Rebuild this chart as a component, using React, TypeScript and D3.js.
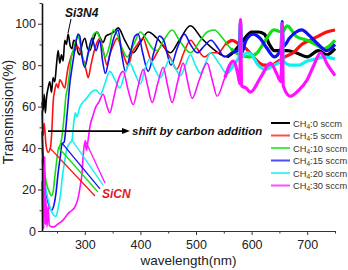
import React, { useEffect, useRef } from "react";
import * as d3 from "d3";

const W = 348;
const H = 270;

// transmission spectra, [wavelength (nm), transmission (%)]
const ch4_0: [number, number][] = [
  [223, 62], [225, 58], [227, 66], [229, 57], [231, 64], [234, 69], [237, 72], [240, 67], [243, 74],
  [246, 72], [249, 80], [252, 87], [255, 81], [258, 85], [261, 82], [264, 92], [267, 90], [270, 95],
  [274, 89], [277, 88], [280, 92], [284, 91], [288, 86], [291, 85], [295, 90], [300, 93], [305, 88],
  [309, 87], [315, 92], [322, 96], [328, 93], [333, 91], [338, 94], [345, 95], [352, 96], [360, 98],
  [372, 92], [387, 86], [400, 91], [414, 96], [430, 93], [454, 86], [470, 92], [490, 99], [510, 93],
  [530, 88], [545, 85], [556, 84], [570, 87], [585, 92], [600, 96], [612, 96], [623, 95], [632, 90],
  [641, 87], [655, 87], [664, 87], [680, 86], [700, 84], [720, 87], [735, 85], [750, 88],
];

const ch4_5: [number, number][] = [
  [223, 58], [225, 46], [227, 52], [230, 42], [234, 38], [238, 40], [241, 50], [243, 62], [246, 68],
  [249, 71], [252, 69], [255, 73], [258, 72], [261, 70], [264, 69], [267, 74], [270, 79], [274, 83],
  [278, 86], [282, 87], [286, 89], [290, 88], [294, 85], [297, 83], [302, 78], [306, 74], [311, 80],
  [316, 86], [322, 91], [327, 93], [334, 86], [340, 80], [346, 86], [352, 90], [358, 93], [366, 88],
  [372, 83], [378, 80], [385, 86], [392, 89], [400, 92], [405, 93], [412, 88], [420, 82], [430, 86],
  [440, 90], [448, 86], [455, 83], [465, 78], [478, 86], [490, 92], [502, 88], [515, 84], [528, 86],
  [540, 86], [553, 90], [565, 92], [578, 90], [590, 88], [600, 85], [610, 82], [622, 80], [635, 80],
  [648, 82], [660, 84], [675, 86], [690, 90], [705, 92], [720, 94], [735, 96], [750, 97],
];

const ch4_10: [number, number][] = [
  [223, 40], [226, 32], [229, 26], [232, 22], [236, 19], [240, 17], [243, 19], [246, 26], [249, 33],
  [252, 39], [255, 41], [258, 44], [260, 48], [263, 56], [266, 65], [269, 69], [272, 75], [276, 84],
  [280, 88], [284, 92], [288, 94], [292, 90], [296, 84], [300, 80], [305, 84], [311, 91], [316, 95],
  [322, 96], [330, 90], [337, 84], [345, 90], [351, 97], [358, 95], [366, 89], [376, 84], [388, 90],
  [400, 96], [412, 92], [422, 88], [430, 87], [442, 92], [457, 97], [470, 92], [490, 86], [508, 92],
  [520, 96], [533, 97], [548, 93], [563, 88], [578, 85], [595, 84], [610, 86], [625, 92], [640, 97],
  [655, 96], [664, 99], [680, 94], [700, 92], [715, 90], [730, 88], [750, 92],
];

const ch4_15: [number, number][] = [
  [223, 48], [225, 36], [228, 24], [232, 16], [236, 12], [240, 10], [244, 12], [248, 18], [252, 28],
  [256, 36], [259, 42], [263, 43], [266, 50], [268, 56], [270, 62], [273, 71], [276, 77], [280, 84],
  [284, 91], [288, 95], [291, 94], [295, 84], [300, 79], [306, 86], [313, 93], [320, 87], [327, 92],
  [332, 82], [337, 76], [344, 84], [352, 93], [360, 97], [366, 86], [373, 77], [382, 86], [390, 94],
  [396, 95], [404, 86], [414, 77], [424, 86], [434, 94], [442, 92], [455, 80], [466, 88], [479, 95],
  [490, 90], [502, 86], [514, 89], [527, 92], [540, 88], [551, 84], [565, 86], [578, 88], [580, 101],
  [582, 86], [590, 92], [603, 95], [615, 93], [628, 88], [641, 84], [653, 88], [655, 101], [657, 89],
  [668, 93], [680, 96], [690, 97], [705, 94], [720, 90], [735, 87], [750, 90],
];

const ch4_20: [number, number][] = [
  [223, 35], [226, 26], [230, 20], [234, 15], [238, 11], [243, 8], [248, 7], [252, 11], [256, 17],
  [260, 27], [264, 34], [268, 40], [272, 42], [277, 44], [280, 52], [283, 57], [286, 55], [290, 59],
  [296, 62], [300, 63], [306, 65], [312, 67], [320, 68], [328, 66], [336, 71], [345, 77], [354, 73],
  [363, 69], [372, 76], [381, 81], [390, 76], [400, 71], [408, 78], [417, 83], [426, 78], [436, 74],
  [445, 79], [453, 83], [462, 79], [472, 75], [481, 80], [490, 85], [499, 80], [508, 76], [517, 81],
  [526, 86], [541, 81], [556, 76], [570, 81], [579, 85], [580, 100], [582, 84], [592, 86], [600, 85],
  [612, 80], [625, 78], [640, 80], [653, 82], [655, 100], [657, 82], [670, 80], [685, 80], [700, 82],
  [715, 83], [730, 84], [750, 83],
];

const ch4_30: [number, number][] = [
  [223, 24], [224, 4], [225, 30], [226, 1], [227, 20], [228, 36], [229, 3], [230, 15], [232, 2],
  [234, 12], [236, 3], [240, 2], [245, 2], [250, 3], [255, 4], [260, 5], [266, 7], [272, 9],
  [277, 10], [283, 12], [288, 16], [292, 22], [295, 28], [297, 36], [300, 43], [303, 39], [306, 44],
  [309, 50], [315, 56], [320, 60], [325, 62], [333, 66], [339, 61], [345, 57], [351, 63], [357, 70],
  [363, 75], [369, 77], [378, 68], [387, 61], [396, 70], [405, 78], [413, 70], [421, 62], [431, 71],
  [441, 79], [449, 70], [457, 62], [467, 72], [477, 81], [485, 72], [493, 64], [506, 73], [520, 81],
  [529, 73], [538, 65], [552, 74], [567, 82], [575, 76], [579, 71], [580, 102], [582, 70], [590, 69],
  [598, 67], [616, 74], [634, 81], [645, 76], [653, 72], [655, 100], [657, 70], [670, 65], [685, 68],
  [700, 73], [712, 80], [724, 86], [737, 80], [750, 75],
];

const seriesData = [ch4_0, ch4_5, ch4_10, ch4_15, ch4_20, ch4_30];
const seriesRates = ["0", "5", "10", "15", "20", "30"];
const seriesColors = ["#000000", "#ff1010", "#10e010", "#1010f0", "#10f0f0", "#ff10ff"];

const xTicks = [300, 400, 500, 600, 700];
const xMinorTicks = [250, 350, 450, 550, 650, 750];
const yTicks = [0, 20, 40, 60, 80, 100];
const yMinorTicks = [10, 30, 50, 70, 90, 110];

// SiCN pointers: one per film, from the absorption edge to the label
const sicnPointers: [number, number, number, number][] = [
  [237.4, 40.0, 318.3, 16.9],
  [251.8, 40.5, 323.7, 18.8],
  [259.0, 42.4, 327.3, 20.3],
  [277.0, 43.9, 332.7, 22.2],
  [300.3, 43.9, 336.3, 23.2],
];

const FONT = "'Liberation Sans', Arial, sans-serif";

export default function App() {
  const ref = useRef<SVGSVGElement>(null);

  useEffect(() => {
    const margin = { top: 3, right: 13, bottom: 39, left: 42 };
    const svg = d3.select(ref.current);
    svg.selectAll("*").remove();

    const x = d3.scaleLinear().domain([223, 750]).range([margin.left, W - margin.right]);
    const y = d3.scaleLinear().domain([0, 110]).range([H - margin.bottom, margin.top]);

    const line = d3.line<[number, number]>()
      .x(d => x(d[0]))
      .y(d => y(d[1]))
      .curve(d3.curveMonotoneX);

    // spectra
    const plot = svg.append("g").attr("fill", "none").attr("stroke-linejoin", "round");
    seriesData.forEach((data, i) => {
      plot.append("path")
        .attr("d", line(data))
        .attr("stroke", seriesColors[i])
        .attr("stroke-width", 1.6);
      // detector region past ~560 nm is noisy, drawn as a wider band
      plot.append("path")
        .attr("d", line(data.filter(d => d[0] >= 552)))
        .attr("stroke", seriesColors[i])
        .attr("stroke-width", 3.2);
    });

    // axes
    const xAxis = svg.append("g")
      .attr("transform", `translate(0,${H - margin.bottom})`)
      .call(d3.axisBottom(x).tickValues(xTicks).tickSizeInner(4).tickSizeOuter(0).tickPadding(5));
    svg.append("g")
      .attr("transform", `translate(0,${H - margin.bottom})`)
      .call(d3.axisBottom(x).tickValues(xMinorTicks).tickSize(2.5).tickFormat(() => ""))
      .call(g => g.select(".domain").remove());

    const yAxis = svg.append("g")
      .attr("transform", `translate(${margin.left},0)`)
      .call(d3.axisLeft(y).tickValues(yTicks).tickSizeInner(4).tickSizeOuter(0).tickPadding(2));
    svg.append("g")
      .attr("transform", `translate(${margin.left},0)`)
      .call(d3.axisLeft(y).tickValues(yMinorTicks).tickSize(2.5).tickFormat(() => ""))
      .call(g => g.select(".domain").remove());

    [xAxis, yAxis].forEach(g => {
      g.selectAll("text").attr("font-family", FONT).attr("font-size", 12.5).attr("fill", "#222");
      g.select(".domain").attr("stroke", "#333");
    });
    yAxis.select(".domain").attr("stroke", "#111").attr("stroke-width", 1.6);
    svg.selectAll(".tick line").attr("stroke", "#333");

    svg.append("text")
      .attr("x", (margin.left + W - margin.right) / 2)
      .attr("y", 265)
      .attr("text-anchor", "middle")
      .attr("font-family", FONT)
      .attr("font-size", 13.5)
      .attr("fill", "#222")
      .text("wavelength(nm)");

    svg.append("text")
      .attr("transform", `translate(13,112) rotate(-90)`)
      .attr("text-anchor", "middle")
      .attr("font-family", FONT)
      .attr("font-size", 14)
      .attr("fill", "#222")
      .text("Transmission(%)");

    // annotations
    const ann = svg.append("g");
    sicnPointers.forEach((p, i) => {
      ann.append("line")
        .attr("x1", x(p[0])).attr("y1", y(p[1]))
        .attr("x2", x(p[2])).attr("y2", y(p[3]))
        .attr("stroke", seriesColors[i + 1])
        .attr("stroke-width", 1.3);
    });
    ann.append("text")
      .attr("x", x(331)).attr("y", y(16))
      .attr("font-family", FONT).attr("font-size", 12)
      .attr("font-weight", "bold").attr("font-style", "italic")
      .attr("fill", "#e8141e")
      .text("SiCN");

    // Si3N4 label and pointer
    ann.append("line")
      .attr("x1", x(275.2)).attr("y1", y(102.3))
      .attr("x2", x(269.8)).attr("y2", y(95.5))
      .attr("stroke", "#000").attr("stroke-width", 1);
    ann.append("text")
      .attr("x", x(264.4)).attr("y", y(103.2))
      .attr("font-family", FONT).attr("font-size", 12)
      .attr("font-weight", "bold").attr("font-style", "italic")
      .attr("fill", "#111")
      .text("Si3N4");

    // shift arrow
    const ay = y(48.2);
    const ax0 = x(233.8);
    const ax1 = x(381.3);
    ann.append("line")
      .attr("x1", ax0).attr("y1", ay).attr("x2", ax1 - 6).attr("y2", ay)
      .attr("stroke", "#000").attr("stroke-width", 1.6);
    ann.append("path")
      .attr("d", `M${ax1},${ay} L${ax1 - 8},${ay - 3} L${ax1 - 8},${ay + 3} Z`)
      .attr("fill", "#000");
    ann.append("text")
      .attr("x", x(384.9)).attr("y", y(46.3))
      .attr("font-family", FONT).attr("font-size", 11.5)
      .attr("font-weight", "bold").attr("font-style", "italic")
      .attr("fill", "#111")
      .text("shift by carbon addition");

    // legend
    const legend = svg.append("g").attr("transform", "translate(271,123)");
    seriesRates.forEach((rate, i) => {
      const row = legend.append("g").attr("transform", `translate(0,${i * 12.5})`);
      row.append("line")
        .attr("x1", 0).attr("x2", 19).attr("y1", 0).attr("y2", 0)
        .attr("stroke", seriesColors[i])
        .attr("stroke-opacity", i === 0 ? 1 : 0.75)
        .attr("stroke-width", 2);
      const t = row.append("text")
        .attr("x", 22).attr("y", 3.5)
        .attr("font-family", FONT).attr("font-size", 9.3)
        .attr("fill", "#333");
      t.append("tspan").text("CH");
      t.append("tspan").attr("font-size", 6.5).attr("dy", 2).text("4");
      t.append("tspan").attr("dy", -2).text(`:${rate} sccm`);
    });
  }, []);

  return (
    <svg
      ref={ref}
      width={W}
      height={H}
      style={{ position: "absolute", left: 0, top: 0, background: "#fff" }}
    />
  );
}
